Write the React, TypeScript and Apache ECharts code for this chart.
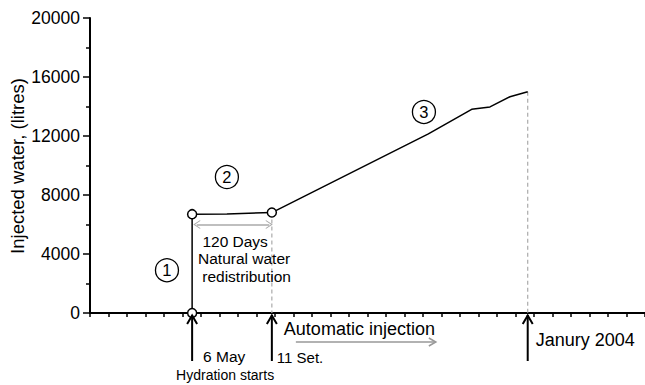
import React, { useEffect, useRef } from "react";
import * as echarts from "echarts";

// Cumulative injected water (litres) along a schematic time axis (tick units)
const injX = [5.52, 5.52, 7.4, 9.83, 18.29, 20.63, 21.62, 22.7, 23.66];
const injY = [0, 6700, 6720, 6810, 12140, 13810, 13970, 14660, 15000];

// Hollow markers: start of hydration, end of filling, start of automatic injection
const markerIdx = [0, 1, 3];

// Y axis ticks (litres)
const yTicks = [0, 4000, 8000, 12000, 16000, 20000];
const xRange = [0, 30];

// Stage numbers drawn as circled digits
const stageNames = ["1", "2", "3"];
const stageX = [4.16, 7.4, 18.05];
const stageY = [2900, 9220, 13630];

// Event labels under the time axis
const eventLabels = ["6 May", "11 Set.", "Janury 2004"];
const FONT = "'Liberation Sans', Arial, Helvetica, sans-serif";
const CHEVRON = "path://M0,10 L6,0 L12,10 L10.6,10 L6,2.6 L1.4,10 Z";

export default function App() {
  const ref = useRef<HTMLDivElement>(null);

  useEffect(() => {
    if (!ref.current) return;
    const chart = echarts.init(ref.current, undefined, { renderer: "svg" });

    const line = injX.map((x, i) => [x, injY[i]]);
    const iSet = markerIdx[2];
    const iEnd = injX.length - 1;

    chart.setOption({
      animation: false,
      backgroundColor: "#fff",
      textStyle: { fontFamily: FONT },
      grid: {
        left: 90,
        right: 0,
        top: 18,
        bottom: 72,
        containLabel: false,
        outerBoundsMode: "none",
      },
      xAxis: [
        {
          type: "value",
          min: xRange[0],
          max: xRange[1],
          interval: 1,
          axisLine: { show: true, onZero: false, lineStyle: { color: "#000", width: 2 } },
          axisTick: { show: true, length: 4, lineStyle: { color: "#000", width: 1.5 } },
          axisLabel: { show: false },
          splitLine: { show: false },
        },
        {
          type: "value",
          position: "top",
          min: xRange[0],
          max: xRange[1],
          axisLine: { show: true, lineStyle: { color: "#000", width: 2 } },
          axisTick: { show: false },
          axisLabel: { show: false },
          splitLine: { show: false },
        },
      ],
      yAxis: {
        type: "value",
        min: yTicks[0],
        max: yTicks[yTicks.length - 1],
        interval: yTicks[1] - yTicks[0],
        axisLine: { show: true, lineStyle: { color: "#000", width: 2 } },
        axisTick: { show: true, length: 7, lineStyle: { color: "#000", width: 1.5 } },
        minorTick: { show: true, splitNumber: 2, length: 4, lineStyle: { color: "#000", width: 1.5 } },
        axisLabel: {
          fontSize: 17.5,
          color: "#000",
          margin: 10,
          fontFamily: FONT,
          formatter: (v: number) => String(v),
        },
        splitLine: { show: false },
      },
      series: [
        {
          type: "line",
          data: [line[iSet], [injX[iSet], 0]],
          symbol: "none",
          lineStyle: { color: "#aaa", width: 1.2, type: [4, 3] },
          z: 1,
        },
        {
          type: "line",
          data: [line[iEnd], [injX[iEnd], 0]],
          symbol: "none",
          lineStyle: { color: "#aaa", width: 1.2, type: [4, 3] },
          z: 1,
        },
        {
          type: "line",
          data: line,
          symbol: "none",
          lineStyle: { color: "#000", width: 1.5 },
          z: 3,
          markLine: {
            silent: true,
            symbol: [CHEVRON, CHEVRON],
            symbolSize: [9, 7],
            lineStyle: { color: "#aaa", width: 1.5, type: "solid" },
            label: { show: false },
            data: [[{ coord: [injX[1] + 0.25, 6000] }, { coord: [injX[iSet] - 0.14, 6000] }]],
          },
        },
        {
          type: "scatter",
          data: markerIdx.map((i) => line[i]),
          symbol: "circle",
          symbolSize: 9,
          itemStyle: { color: "#fff", borderColor: "#000", borderWidth: 1.5, opacity: 1 },
          z: 4,
        },
        {
          type: "scatter",
          data: stageNames.map((n, i) => ({ name: n, value: [stageX[i], stageY[i]] })),
          symbol: "circle",
          symbolSize: 23,
          itemStyle: { color: "#fff", borderColor: "#000", borderWidth: 1.3, opacity: 1 },
          label: {
            show: true,
            position: "inside",
            formatter: (p: any) => p.name,
            fontSize: 16.5,
            color: "#000",
            fontFamily: FONT,
          },
          z: 4,
        },
      ],
    });

    const px = (x: number) => chart.convertToPixel({ xAxisIndex: 0 }, x) as number;
    const py = (y: number) => chart.convertToPixel({ yAxisIndex: 0 }, y) as number;
    const y0 = py(0);
    const yTop = py(yTicks[yTicks.length - 1]);
    const xMay = px(injX[0]);
    const xSet = px(injX[iSet]);
    const xJan = px(injX[iEnd]);
    const yPlateau = py(injY[1]);

    const txt = (text: string, x: number, y: number, size: number, align = "left") => ({
      type: "text",
      x,
      y,
      style: {
        text,
        fontSize: size,
        fontFamily: FONT,
        fill: "#000",
        align,
        verticalAlign: "middle",
      },
      z: 10,
    });

    const eventArrow = (x: number) => [
      {
        type: "line",
        shape: { x1: x, y1: y0 + 2, x2: x, y2: y0 + 48 },
        style: { stroke: "#000", lineWidth: 2 },
        z: 10,
      },
      {
        type: "polyline",
        shape: { points: [[x - 5, y0 + 11], [x, y0 + 2.5], [x + 5, y0 + 11]] },
        style: { stroke: "#000", lineWidth: 2, fill: null },
        z: 10,
      },
    ];

    chart.setOption({
      graphic: [
        // Y axis title, rotated
        {
          ...txt("Injected water, (litres)", 17.5, (y0 + yTop) / 2 + 0.5, 18.5, "center"),
          rotation: Math.PI / 2,
        },
        ...eventArrow(xMay),
        ...eventArrow(xSet),
        ...eventArrow(xJan),
        txt(eventLabels[0], xMay + 11, y0 + 43, 15.5),
        txt("Hydration starts", xMay + 33, y0 + 62, 14, "center"),
        txt(eventLabels[1], xSet + 5, y0 + 44, 15),
        txt(eventLabels[2], xJan + 8, y0 + 27, 18),
        txt("Automatic injection", xSet + 12, y0 + 16, 18),
        {
          type: "line",
          shape: { x1: xSet + 24, y1: y0 + 29, x2: xSet + 163, y2: y0 + 29 },
          style: { stroke: "#999", lineWidth: 1.5 },
          z: 10,
        },
        {
          type: "polyline",
          shape: { points: [[xSet + 157, y0 + 25], [xSet + 164, y0 + 29], [xSet + 157, y0 + 33]] },
          style: { stroke: "#999", lineWidth: 1.5, fill: null },
          z: 10,
        },
        txt("120 Days", xMay + 43, yPlateau + 27, 15.5, "center"),
        txt("Natural water", xMay + 52, yPlateau + 44, 15.5, "center"),
        txt("redistribution", xMay + 54.5, yPlateau + 62, 15.5, "center"),
      ],
    });

    return () => chart.dispose();
  }, []);

  return (
    <div
      ref={ref}
      style={{ position: "fixed", left: 0, top: 0, width: 645, height: 385, background: "#fff" }}
    />
  );
}
